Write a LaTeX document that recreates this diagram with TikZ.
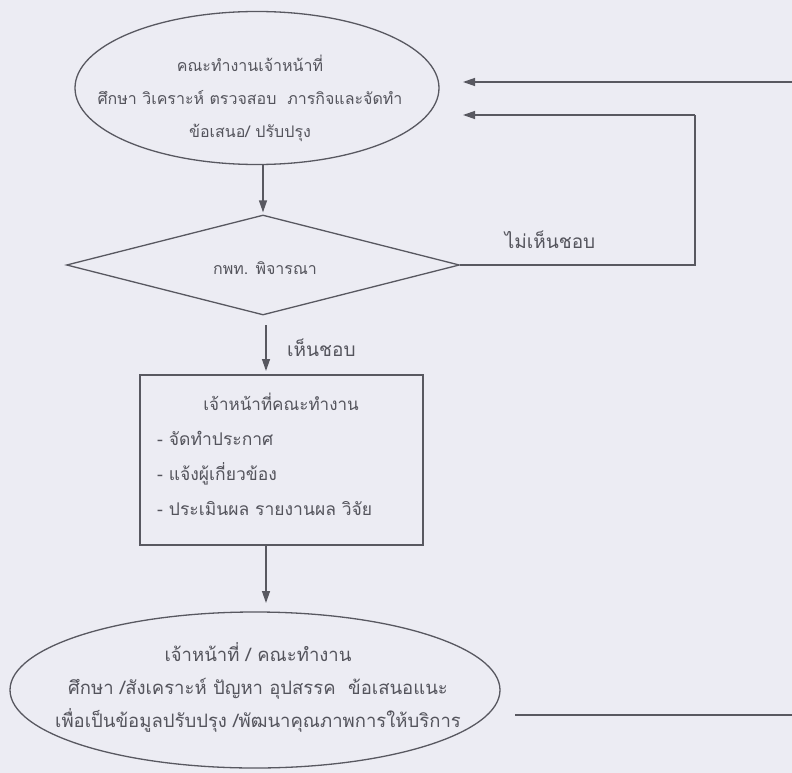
\documentclass[tikz,border=0pt]{standalone}
\usepackage{fontspec}
\newfontfamily\thaifont[Script=Thai]{Loma}
\usetikzlibrary{shapes.geometric,arrows.meta}
\definecolor{bg}{RGB}{236,236,243}
\definecolor{ln}{RGB}{88,88,96}
\definecolor{tx}{RGB}{84,84,92}
\tikzset{
  shp/.style={draw=ln,line width=1.3pt},
  txt/.style={text=tx,align=center,inner sep=0pt,font=\thaifont\fontsize{16}{33}\selectfont},
  con/.style={draw=ln,line width=1.3pt},
  arr/.style={con,-{Triangle[length=12pt,width=8pt]}}
}
\begin{document}
\begin{tikzpicture}[x=1pt,y=-1pt]
\useasboundingbox (0,0) rectangle (792,773);
\fill[bg] (0,0) rectangle (792,773);
% shapes
\node[shp,ellipse,minimum width=364pt,minimum height=153pt,inner sep=0pt] (e1) at (257,88) {};
\node[txt] (e1t) at (250,98) {คณะทำงานเจ้าหน้าที่\\ศึกษา วิเคราะห์ ตรวจสอบ\ \ ภารกิจและจัดทำ\\ข้อเสนอ/ ปรับปรุง};
\node[shp,diamond,minimum width=393pt,minimum height=100pt,inner sep=0pt,aspect=3.9] (d1) at (263,265) {};
\node[txt,font=\thaifont\fontsize{16}{20}\selectfont] (d1t) at (265,268) {กพท. พิจารณา};
\node[shp,rectangle,minimum width=283pt,minimum height=170pt,inner sep=0pt] (r1) at (281.5,460) {};
\node[txt,font=\thaifont\fontsize{17}{35}\selectfont] (r1t) at (281,402) {เจ้าหน้าที่คณะทำงาน};
\node[txt,align=left,anchor=west,font=\thaifont\fontsize{17.5}{35}\selectfont] (r1b) at (157,473) {- จัดทำประกาศ\\- แจ้งผู้เกี่ยวข้อง\\- ประเมินผล รายงานผล วิจัย};
\node[shp,ellipse,minimum width=490pt,minimum height=156pt,inner sep=0pt] (e2) at (255,690) {};
\node[txt,font=\thaifont\fontsize{18.5}{33}\selectfont] (e2t) at (258,687) {เจ้าหน้าที่ / คณะทำงาน\\ศึกษา /สังเคราะห์ ปัญหา อุปสรรค\ \ ข้อเสนอแนะ\\เพื่อเป็นข้อมูลปรับปรุง /พัฒนาคุณภาพการให้บริการ};
% labels
\node[txt,font=\thaifont\fontsize{19}{24}\selectfont] (no) at (550,240) {ไม่เห็นชอบ};
\node[txt,font=\thaifont\fontsize{19}{24}\selectfont,anchor=west] (yes) at (287,348) {เห็นชอบ};
% coordinates
\coordinate (c1) at (695,265);
\coordinate (c2) at (695,115);
\coordinate (c3) at (463,115);
\coordinate (t1) at (792,82);
\coordinate (t2) at (463,82);
\coordinate (b1) at (515,715);
\coordinate (b2) at (792,715);
% connectors
\draw[arr,shorten >=2pt] (d1.north |- e1.south) -- (d1.north);
\draw[arr,shorten <=10pt,shorten >=4pt] (266,315) -- (266,375);
\draw[arr,shorten >=9pt] (266,545) -- (266,612);
\draw[con] (d1.east) -- (c1) -- (c2);
\draw[arr] (c2) -- (c3);
\draw[arr] (t1) -- (t2);
\draw[con] (b1) -- (b2);
\end{tikzpicture}
\end{document}
